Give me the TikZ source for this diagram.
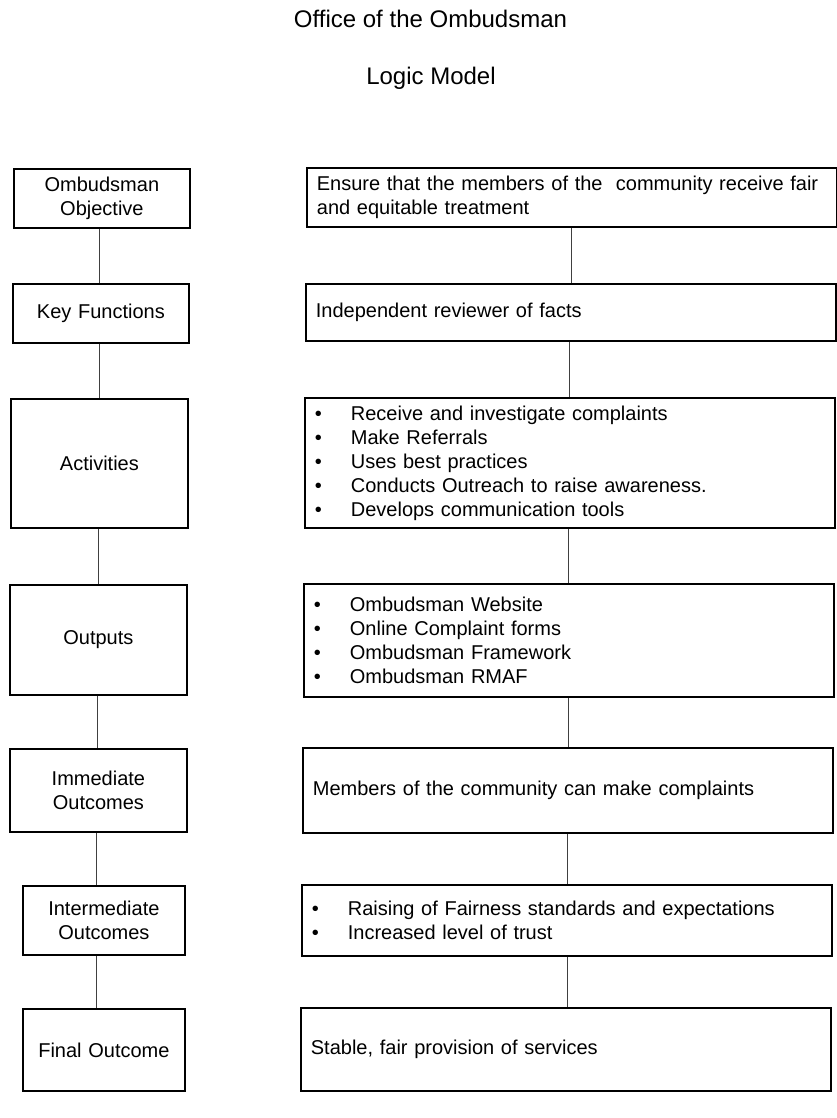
\documentclass[tikz,border=0pt]{standalone}
\usepackage{fontspec}
\setmainfont{Liberation Sans}
\newcommand{\bitem}[1]{\makebox[36pt][l]{\textbullet}#1}
\begin{document}
\begin{tikzpicture}[x=1pt,y=-1pt,
  box/.style={draw=black, line width=1.8pt, inner ysep=0pt, font=\fontsize{20}{24}\selectfont, anchor=north west},
  lbox/.style={box, align=center, inner xsep=4pt},
  rbox/.style={box, align=left, inner xsep=10pt, text width=510pt},
  conn/.style={draw=black!75, line width=0.9pt},
  titletext/.style={font=\fontsize{24}{28}\selectfont, anchor=base}]
\useasboundingbox (0,0) rectangle (837,1118);

\node[titletext] (t1) at (430.5,28) {Office of the Ombudsman};
\node[titletext] (t2) at (431,85) {Logic Model};

% left column
\node[lbox, text width=168pt, minimum height=59pt] (l1) at (13,168) {Ombudsman\\Objective};
\node[lbox, text width=168pt, minimum height=59pt] (l2) at (12,283) {Key Functions};
\node[lbox, text width=169pt, minimum height=129pt] (l3) at (10,398) {Activities};
\node[lbox, text width=169pt, minimum height=110pt] (l4) at (9,584) {Outputs};
\node[lbox, text width=169pt, minimum height=83pt] (l5) at (9,748) {Immediate\\Outcomes};
\node[lbox, text width=154pt, minimum height=69pt] (l6) at (22,885) {Intermediate\\Outcomes};
\node[lbox, text width=154pt, minimum height=82pt] (l7) at (22,1008) {Final Outcome};

% right column
\node[rbox, minimum height=59pt] (r1) at (306,167) {Ensure that the members of the \ community receive fair\\and equitable treatment};
\node[rbox, minimum height=57pt] (r2) at (305,283) {Independent reviewer of facts};
\node[rbox, minimum height=130pt] (r3) at (304,397) {\bitem{Receive and investigate complaints}\\\bitem{Make Referrals}\\\bitem{Uses best practices}\\\bitem{Conducts Outreach to raise awareness.}\\\bitem{Develops communication tools}};
\node[rbox, minimum height=113pt] (r4) at (303,583) {\bitem{Ombudsman Website}\\\bitem{Online Complaint forms}\\\bitem{Ombudsman Framework}\\\bitem{Ombudsman RMAF}};
\node[rbox, minimum height=85pt] (r5) at (302,747) {Members of the community can make complaints};
\node[rbox, minimum height=71pt] (r6) at (301,884) {\bitem{Raising of Fairness standards and expectations}\\\bitem{Increased level of trust}};
\node[rbox, minimum height=83pt] (r7) at (300,1007) {Stable, fair provision of services};

% connector columns
\coordinate (cl1) at (99,0);
\coordinate (cl2) at (99,0);
\coordinate (cl3) at (98,0);
\coordinate (cl4) at (97,0);
\coordinate (cl5) at (96,0);
\coordinate (cl6) at (96,0);
\coordinate (cr1) at (571,0);
\coordinate (cr2) at (569,0);
\coordinate (cr3) at (568,0);
\coordinate (cr4) at (568,0);
\coordinate (cr5) at (567,0);
\coordinate (cr6) at (567,0);

\draw[conn] (l1.south -| cl1) -- (l2.north -| cl1);
\draw[conn] (l2.south -| cl2) -- (l3.north -| cl2);
\draw[conn] (l3.south -| cl3) -- (l4.north -| cl3);
\draw[conn] (l4.south -| cl4) -- (l5.north -| cl4);
\draw[conn] (l5.south -| cl5) -- (l6.north -| cl5);
\draw[conn] (l6.south -| cl6) -- (l7.north -| cl6);

\draw[conn] (r1.south -| cr1) -- (r2.north -| cr1);
\draw[conn] (r2.south -| cr2) -- (r3.north -| cr2);
\draw[conn] (r3.south -| cr3) -- (r4.north -| cr3);
\draw[conn] (r4.south -| cr4) -- (r5.north -| cr4);
\draw[conn] (r5.south -| cr5) -- (r6.north -| cr5);
\draw[conn] (r6.south -| cr6) -- (r7.north -| cr6);
\end{tikzpicture}
\end{document}
